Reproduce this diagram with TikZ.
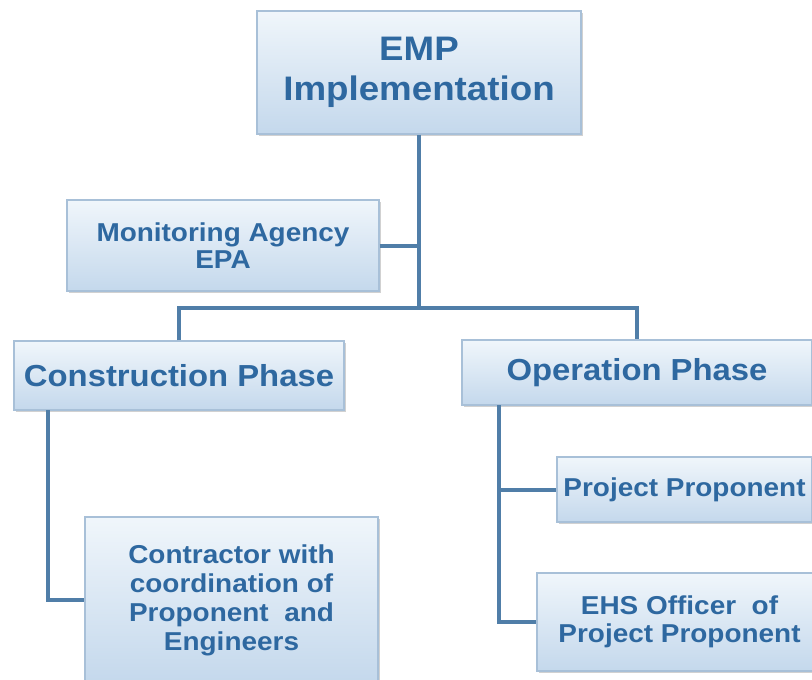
\documentclass[tikz,border=0pt]{standalone}
\usepackage{fontspec}
\setmainfont{Liberation Sans}[FakeStretch=1.08]
\usetikzlibrary{shadows}

\definecolor{boxtext}{RGB}{46,104,160}
\definecolor{boxline}{RGB}{168,192,216}
\definecolor{boxtop}{RGB}{240,246,251}
\definecolor{boxbottom}{RGB}{196,216,236}
\definecolor{wire}{RGB}{80,126,168}

\begin{document}
\begin{tikzpicture}[x=0.75pt, y=-0.75pt,
  box/.style={draw=boxline, line width=1pt, top color=boxtop, bottom color=boxbottom,
    drop shadow={shadow xshift=1.5pt, shadow yshift=-1.5pt, opacity=0.3, fill=black!60},
    inner sep=0pt, align=center, text=boxtext, font=\bfseries},
  link/.style={draw=wire, line width=3pt}]
  \useasboundingbox (0,0) rectangle (812,679);
  \clip (0,0) rectangle (812,679);

  % Top of the chart
  \node[box, minimum width=243pt, minimum height=92.25pt,
    font=\bfseries\fontsize{25.5}{30}\selectfont] (emp) at (419,72.5) {EMP\\Implementation};

  % Side box on the trunk
  \node[box, minimum width=234pt, minimum height=68.25pt,
    font=\bfseries\fontsize{19.4}{20}\selectfont] (agency) at (223,245.5) {Monitoring Agency\\EPA};

  % The two phases
  \node[box, minimum width=247.5pt, minimum height=51.75pt,
    font=\bfseries\fontsize{22.8}{26}\selectfont] (construction) at (179,375.5) {Construction Phase};
  \node[box, minimum width=262.5pt, minimum height=48.75pt,
    font=\bfseries\fontsize{22.8}{26}\selectfont] (operation) at (637,372.5) {Operation Phase};

  % Who is responsible in each phase
  \node[box, minimum width=219.75pt, minimum height=124.5pt,
    font=\bfseries\fontsize{19.4}{21.75}\selectfont] (contractor) at (231.5,600)
    {Contractor with\\coordination of\\Proponent\ \ and\\Engineers};
  \node[box, minimum width=191.25pt, minimum height=48.75pt,
    font=\bfseries\fontsize{19.4}{21}\selectfont] (proponent) at (684.5,489.5) {Project Proponent};
  \node[box, minimum width=213.75pt, minimum height=73.5pt,
    font=\bfseries\fontsize{19.4}{21}\selectfont] (officer) at (679.5,622)
    {EHS Officer\ \ of\\Project Proponent};

  % Connectors
  \coordinate (split) at (419,308);
  \coordinate (cdrop) at (48,410);
  \coordinate (odrop) at (499,405);
  \draw[link] (emp.south) -- (split);
  \draw[link] (agency.east) -- (agency.east -| split);
  \draw[link] (construction.north) |- (split) -| (operation.north);
  \draw[link] (cdrop) |- (contractor.west);
  \draw[link] (odrop) |- (officer.west);
  \draw[link] (odrop |- proponent.west) -- (proponent.west);
\end{tikzpicture}
\end{document}
